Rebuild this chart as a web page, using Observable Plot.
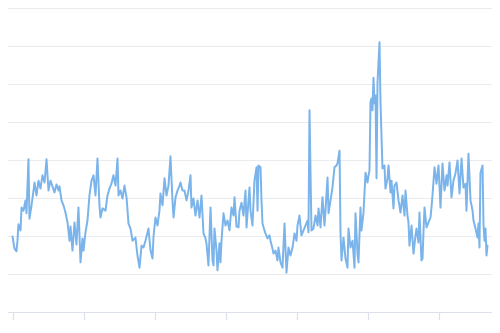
<!DOCTYPE html>
<html>
<head>
<meta charset="utf-8">
<script src="https://cdn.jsdelivr.net/npm/d3@7"></script>
<script src="https://cdn.jsdelivr.net/npm/@observablehq/plot@0.6"></script>
<style>
  html, body { margin: 0; padding: 0; background: #fff; }
  #chart svg { display: block; }
</style>
</head>
<body>
<div id="chart"></div>
<script>
const years = [2014, 2015, 2016, 2017, 2018, 2019, 2020];
const yTicks = [0, 10, 20, 30, 40, 50, 60, 70, 80];

const time = [
  2013.986, 2014.014, 2014.042, 2014.056, 2014.070, 2014.099, 2014.113, 2014.141, 2014.169, 2014.183,
  2014.211, 2014.225, 2014.254, 2014.282, 2014.296, 2014.324, 2014.352, 2014.380, 2014.408, 2014.437,
  2014.465, 2014.493, 2014.521, 2014.549, 2014.577, 2014.606, 2014.634, 2014.648, 2014.676, 2014.704,
  2014.732, 2014.761, 2014.789, 2014.803, 2014.831, 2014.859, 2014.887, 2014.915, 2014.944, 2014.972,
  2014.986, 2015.014, 2015.042, 2015.070, 2015.099, 2015.127, 2015.155, 2015.183, 2015.211, 2015.225,
  2015.254, 2015.296, 2015.324, 2015.352, 2015.380, 2015.408, 2015.437, 2015.465, 2015.479, 2015.507,
  2015.535, 2015.563, 2015.592, 2015.620, 2015.648, 2015.676, 2015.718, 2015.746, 2015.775, 2015.803,
  2015.831, 2015.859, 2015.901, 2015.930, 2015.958, 2015.972, 2016.000, 2016.028, 2016.056, 2016.070,
  2016.099, 2016.127, 2016.155, 2016.183, 2016.211, 2016.239, 2016.254, 2016.282, 2016.310, 2016.338,
  2016.352, 2016.380, 2016.408, 2016.437, 2016.465, 2016.493, 2016.507, 2016.535, 2016.563, 2016.592,
  2016.620, 2016.648, 2016.676, 2016.704, 2016.718, 2016.746, 2016.775, 2016.803, 2016.817, 2016.831,
  2016.859, 2016.873, 2016.901, 2016.915, 2016.930, 2016.958, 2016.986, 2017.014, 2017.042, 2017.070,
  2017.099, 2017.113, 2017.141, 2017.169, 2017.183, 2017.211, 2017.239, 2017.268, 2017.282, 2017.310,
  2017.324, 2017.338, 2017.366, 2017.394, 2017.423, 2017.437, 2017.451, 2017.479, 2017.493, 2017.507,
  2017.535, 2017.549, 2017.577, 2017.606, 2017.620, 2017.648, 2017.662, 2017.690, 2017.718, 2017.732,
  2017.761, 2017.789, 2017.817, 2017.845, 2017.873, 2017.901, 2017.930, 2017.958, 2017.986, 2018.000,
  2018.028, 2018.056, 2018.085, 2018.113, 2018.141, 2018.155, 2018.169, 2018.197, 2018.225, 2018.254,
  2018.282, 2018.296, 2018.324, 2018.352, 2018.380, 2018.394, 2018.423, 2018.437, 2018.465, 2018.493,
  2018.521, 2018.549, 2018.563, 2018.592, 2018.606, 2018.620, 2018.648, 2018.676, 2018.704, 2018.718,
  2018.746, 2018.775, 2018.803, 2018.817, 2018.845, 2018.859, 2018.887, 2018.901, 2018.930, 2018.958,
  2018.986, 2019.000, 2019.014, 2019.028, 2019.042, 2019.056, 2019.070, 2019.085, 2019.099, 2019.113,
  2019.127, 2019.155, 2019.169, 2019.183, 2019.197, 2019.225, 2019.239, 2019.268, 2019.282, 2019.310,
  2019.324, 2019.352, 2019.366, 2019.394, 2019.423, 2019.451, 2019.479, 2019.507, 2019.521, 2019.549,
  2019.563, 2019.577, 2019.606, 2019.634, 2019.662, 2019.676, 2019.704, 2019.718, 2019.746, 2019.761,
  2019.775, 2019.789, 2019.817, 2019.845, 2019.873, 2019.887, 2019.901, 2019.930, 2019.958, 2019.986,
  2020.014, 2020.042, 2020.070, 2020.099, 2020.113, 2020.141, 2020.169, 2020.197, 2020.225, 2020.254,
  2020.282, 2020.310, 2020.338, 2020.366, 2020.380, 2020.408, 2020.437, 2020.465, 2020.479, 2020.507,
  2020.535, 2020.549, 2020.563, 2020.577, 2020.606, 2020.620, 2020.634, 2020.648, 2020.662, 2020.676
];

const values = [
  20.0, 16.8, 16.1, 18.9, 23.2, 21.6, 27.6, 26.8, 29.5, 26.1,
  40.3, 24.7, 28.2, 32.1, 34.2, 30.8, 34.7, 32.6, 36.1, 34.2,
  40.3, 32.1, 34.7, 33.2, 31.6, 33.7, 32.1, 33.2, 29.5, 28.2,
  26.3, 23.7, 18.9, 22.6, 16.3, 23.7, 17.9, 27.6, 13.2, 19.5,
  16.3, 21.1, 24.2, 30.8, 34.7, 36.1, 30.8, 40.5, 28.2, 25.0,
  27.4, 26.8, 30.8, 32.6, 33.9, 36.1, 33.4, 40.5, 30.8, 32.1,
  30.0, 33.4, 30.3, 23.4, 22.1, 18.9, 19.7, 15.0, 11.8, 17.6,
  17.1, 18.9, 22.1, 16.3, 14.2, 20.0, 25.0, 22.9, 26.8, 31.3,
  28.2, 35.3, 30.8, 33.4, 41.1, 29.5, 25.0, 30.3, 32.1, 33.4,
  34.2, 32.1, 32.1, 29.5, 32.1, 36.1, 27.6, 30.0, 25.5, 29.5,
  25.0, 30.8, 20.8, 19.5, 18.2, 12.4, 27.6, 13.7, 12.4, 22.1,
  16.3, 11.1, 18.2, 13.2, 18.9, 26.1, 22.9, 24.2, 21.6, 27.6,
  25.5, 30.3, 22.6, 22.4, 26.8, 28.9, 25.5, 32.1, 22.4, 29.5,
  32.9, 26.8, 22.9, 34.7, 38.2, 26.8, 38.7, 38.2, 29.5, 23.4,
  21.6, 20.8, 19.5, 20.3, 18.9, 16.8, 15.5, 16.3, 13.7, 17.1,
  13.2, 11.8, 23.4, 10.5, 17.1, 15.0, 17.1, 20.8, 18.9, 22.9,
  25.5, 20.3, 21.6, 22.9, 24.2, 21.1, 53.2, 21.6, 22.1, 25.5,
  22.9, 27.4, 22.4, 30.3, 22.9, 26.8, 35.5, 26.1, 29.5, 32.9,
  38.2, 38.7, 39.2, 42.6, 20.8, 13.7, 19.7, 14.2, 11.8, 22.1,
  17.1, 18.9, 11.8, 26.1, 15.5, 13.2, 27.6, 21.6, 26.3, 36.8,
  34.2, 36.1, 37.4, 55.3, 56.3, 53.2, 61.8, 55.0, 57.1, 35.3,
  60.5, 71.1, 55.3, 46.6, 37.9, 38.7, 32.6, 35.3, 38.7, 31.6,
  34.7, 27.4, 33.4, 34.2, 29.5, 26.3, 30.8, 25.5, 32.1, 25.5,
  23.7, 17.6, 22.9, 15.5, 20.3, 22.1, 18.4, 26.3, 13.7, 14.2,
  21.6, 27.6, 22.4, 23.7, 25.0, 27.6, 30.8, 38.2, 33.9, 38.7,
  27.6, 39.2, 32.1, 36.1, 33.4, 39.5, 30.3, 34.7, 36.6, 40.0,
  31.3, 40.5, 32.9, 33.9, 26.8, 41.8, 29.5, 26.8, 24.2, 22.1,
  19.7, 23.4, 17.1, 36.8, 38.7, 22.9, 18.9, 22.1, 15.0, 17.6
];

const data = time.map((t, i) => ({t, v: values[i]}));

const chart = Plot.plot({
  width: 500,
  height: 333,
  marginTop: 8,
  marginBottom: 21,
  marginLeft: 8,
  marginRight: 8,
  style: {background: "#fff", overflow: "visible"},
  x: {domain: [time[0], time[time.length - 1]], range: [12, 487], label: null},
  y: {domain: [0, 80], label: null, axis: null},
  marks: [
    Plot.gridY(yTicks.slice(1), {stroke: "#e9ebef", strokeOpacity: 1, strokeWidth: 1}),
    Plot.axisX(years, {tickSize: 8, tickFormat: () => "", stroke: "#dce0ea", strokeWidth: 1.2, label: null}),
    Plot.ruleY([0], {stroke: "#dce0ea", strokeWidth: 1.2}),
    Plot.line(data, {x: "t", y: "v", stroke: "#7bb4ea", strokeWidth: 2, curve: "linear", strokeLinejoin: "round"})
  ]
});
document.getElementById("chart").appendChild(chart);
</script>
</body>
</html>
